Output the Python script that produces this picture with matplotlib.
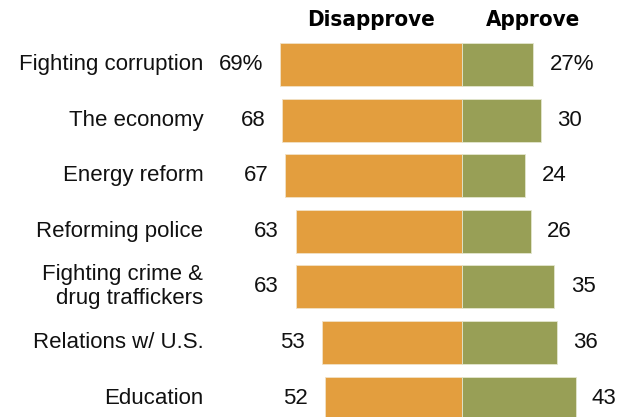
import matplotlib.pyplot as plt

categories = ['Fighting corruption', 'The economy', 'Energy reform', 'Reforming police',
              'Fighting crime &\ndrug traffickers', 'Relations w/ U.S.', 'Education']
disapprove = [69, 68, 67, 63, 63, 53, 52]
approve = [27, 30, 24, 26, 35, 36, 43]

orange = '#E39E3E'
green = '#989F56'

fig = plt.figure(figsize=(6.27, 4.17), dpi=100)
ax = fig.add_axes([0, 0, 1, 1])
ax.set_xlim(-175, 62.5)
ax.set_ylim(6.34, -1.16)
ax.axis('off')

rows = range(len(categories))
ax.barh(rows, [-d for d in disapprove], height=0.77, color=orange, edgecolor='#F2E2C6', linewidth=0.6)
ax.barh(rows, approve, height=0.77, color=green, edgecolor='#E3E6CF', linewidth=0.6)

lab_font = dict(family='Liberation Sans', fontsize=16, color='#111111')
for i in rows:
    ax.text(-98, i, categories[i], ha='right', va='center', linespacing=1.2, **lab_font)
    d = f'{disapprove[i]}%' if i == 0 else str(disapprove[i])
    a = f'{approve[i]}%' if i == 0 else str(approve[i])
    ax.text(-disapprove[i] - 6.4, i, d, ha='right', va='center', **lab_font)
    ax.text(approve[i] + 6.2, i, a, ha='left', va='center', **lab_font)

# column headers in a condensed bold face
head = dict(family=['Liberation Sans Narrow', 'DejaVu Sans'], stretch='condensed',
            fontsize=16, fontweight='bold', va='center')
ax.text(-34.5, -0.8, 'Disapprove', ha='center', **head)
ax.text(27, -0.8, 'Approve', ha='center', **head)

fig.savefig('out.png', dpi=100)
